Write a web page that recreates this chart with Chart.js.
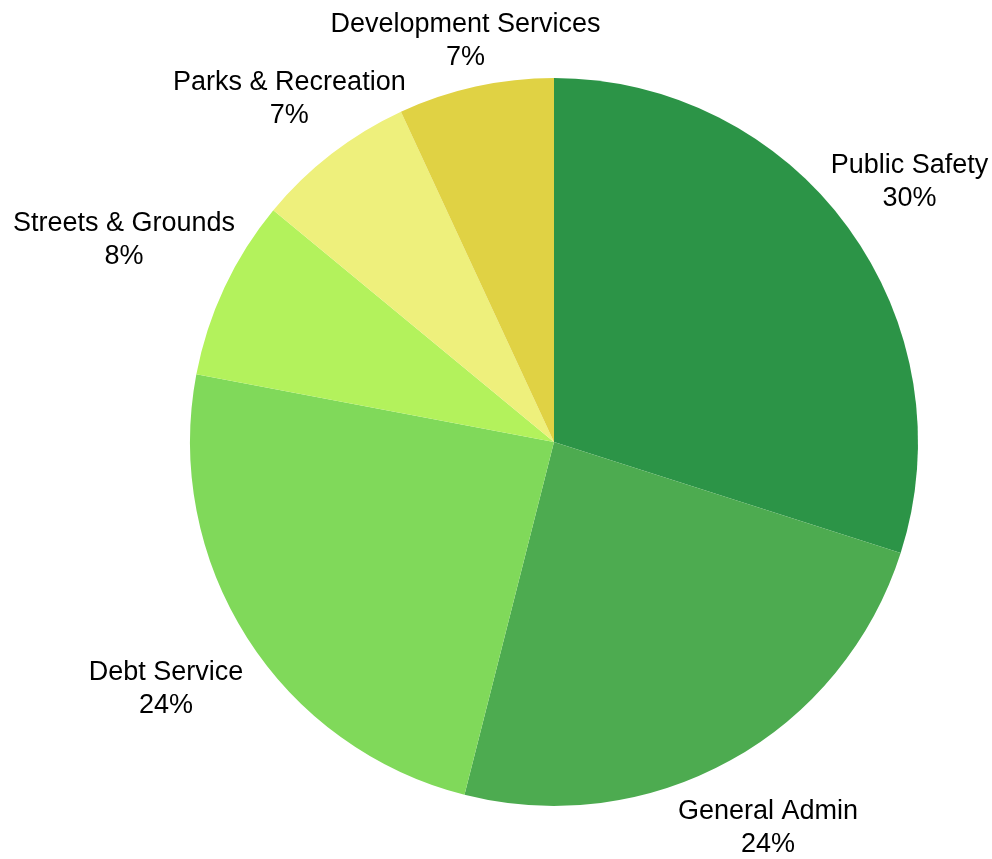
<!DOCTYPE html>
<html lang="en">
<head>
<meta charset="UTF-8">
<title>Budget by Department</title>
<script src="https://cdn.jsdelivr.net/npm/chart.js"></script>
<style>
  body { margin: 0; background: #fff; }
  canvas { display: block; }
</style>
</head>
<body>
<canvas id="budgetPie" width="992" height="859"></canvas>
<script>
  // departments, clockwise from the top
  var departments = ['Public Safety', 'General Admin', 'Debt Service', 'Streets & Grounds', 'Parks & Recreation', 'Development Services'];
  var shares = [29.9, 24.0, 24.0, 8.0, 7.1, 6.9];
  var sliceColors = ['#2c9447', '#4dab50', '#80d95a', '#b3f25c', '#eef07c', '#e0d244'];

  // labels outside the pie: name + rounded percent, centred on the slice's mid angle
  var outsideLabels = {
    id: 'outsideLabels',
    afterDraw: function (chart, args, opts) {
      var ctx = chart.ctx;
      var meta = chart.getDatasetMeta(0);
      var total = shares.reduce(function (a, b) { return a + b; }, 0);
      var lineH = opts.lineHeight;
      ctx.save();
      ctx.font = opts.font;
      ctx.fillStyle = '#000';
      ctx.textAlign = 'center';
      ctx.textBaseline = 'middle';
      meta.data.forEach(function (arc, i) {
        var p = arc.getProps(['x', 'y', 'startAngle', 'endAngle', 'outerRadius'], true);
        var mid = (p.startAngle + p.endAngle) / 2;
        var d = p.outerRadius * opts.distance[i];
        var cx = p.x + Math.cos(mid) * d;
        var cy = p.y + Math.sin(mid) * d;
        ctx.fillText(departments[i], cx, cy - lineH / 2);
        ctx.fillText(Math.round(shares[i] / total * 100) + '%', cx, cy + lineH / 2);
      });
      ctx.restore();
    }
  };

  var ctx = document.getElementById('budgetPie').getContext('2d');
  var budgetPie = new Chart(ctx, {
    type: 'pie',
    data: {
      labels: departments,
      datasets: [{
        data: shares,
        backgroundColor: sliceColors,
        borderWidth: 0
      }]
    },
    options: {
      responsive: false,
      animation: false,
      layout: { padding: { left: 190, right: 74, top: 78, bottom: 53 } },
      plugins: {
        legend: { display: false },
        tooltip: { enabled: false },
        outsideLabels: {
          font: '27px "Liberation Sans", Arial, sans-serif',
          lineHeight: 33,
          distance: [1.209, 1.212, 1.264, 1.305, 1.19, 1.129]
        }
      }
    },
    plugins: [outsideLabels]
  });
</script>
</body>
</html>
